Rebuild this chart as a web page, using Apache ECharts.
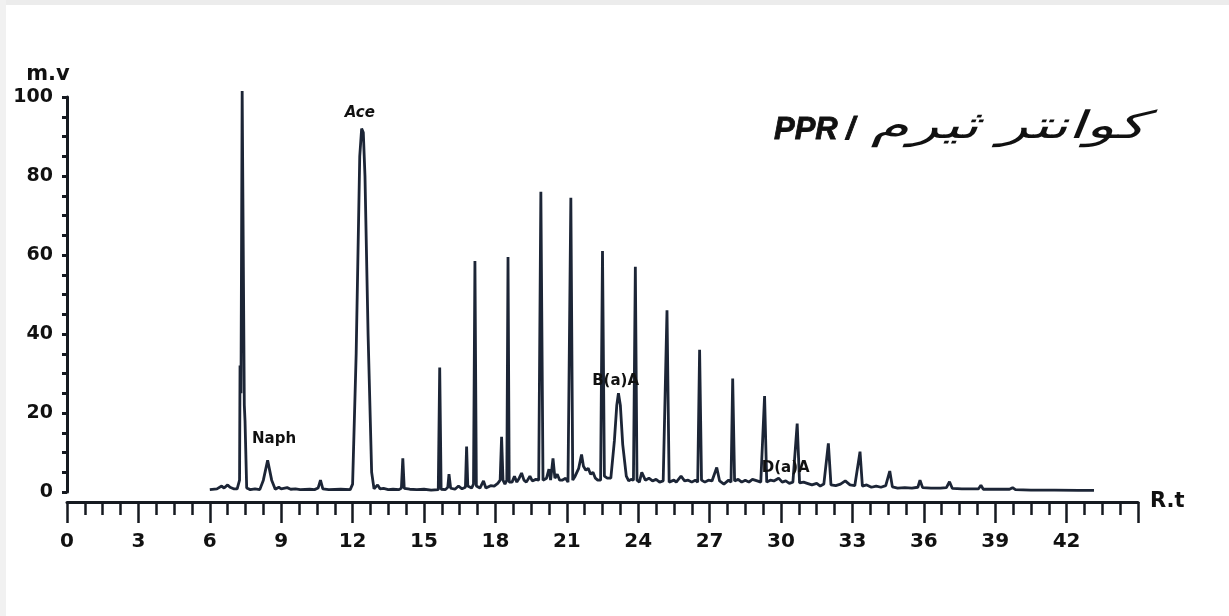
<!DOCTYPE html>
<html>
<head>
<meta charset="utf-8">
<script src="https://cdn.jsdelivr.net/npm/echarts@6/dist/echarts.min.js"></script>
<style>
  html, body { margin: 0; padding: 0; background: #fff; }
  #chart { width: 1229px; height: 616px; }
</style>
</head>
<body>
<div id="chart"></div>
<script>
// retention time (min) and detector signal (m.v)
const rtTimes = [
  6.0, 6.3, 6.5, 6.6, 6.75, 6.85, 7.0, 7.15, 7.25, 7.27, 7.31, 7.36, 7.41, 7.45, 7.48, 7.55,
  7.7, 7.9, 8.1, 8.25, 8.43, 8.6, 8.75, 8.9, 9.0, 9.25, 9.4, 9.6, 9.8, 10.2, 10.4, 10.55, 10.65, 10.75,
  11.0, 11.5, 11.9, 12.0, 12.15, 12.3, 12.38, 12.45, 12.52, 12.65, 12.8, 12.9, 13.05, 13.15, 13.3, 13.5,
  13.7, 13.95, 14.05, 14.11, 14.17, 14.4, 14.7, 15.0, 15.3, 15.6, 15.66, 15.72, 15.9, 16.0, 16.05, 16.12,
  16.3, 16.45, 16.6, 16.74, 16.79, 16.84, 17.0, 17.08, 17.14, 17.2, 17.35, 17.5, 17.6, 17.8, 17.95, 18.1,
  18.2, 18.26, 18.32, 18.4, 18.48, 18.53, 18.58, 18.7, 18.8, 18.9, 19.0, 19.1, 19.2, 19.3, 19.45, 19.55,
  19.7, 19.82, 19.91, 20.0, 20.15, 20.25, 20.32, 20.42, 20.5, 20.6, 20.7, 20.8, 20.95, 21.05, 21.17, 21.25,
  21.35, 21.5, 21.62, 21.7, 21.8, 21.9, 22.0, 22.1, 22.2, 22.3, 22.42, 22.5, 22.58, 22.7, 22.85, 23.0,
  23.1, 23.17, 23.25, 23.35, 23.5, 23.6, 23.7, 23.8, 23.88, 23.95, 24.05, 24.15, 24.3, 24.45, 24.6, 24.75,
  24.9, 25.05, 25.21, 25.3, 25.5, 25.6, 25.8, 25.95, 26.1, 26.25, 26.4, 26.5, 26.58, 26.66, 26.8, 26.95,
  27.1, 27.3, 27.42, 27.6, 27.8, 27.9, 27.97, 28.05, 28.2, 28.35, 28.5, 28.65, 28.8, 29.0, 29.15, 29.31,
  29.4, 29.55, 29.7, 29.9, 30.05, 30.2, 30.35, 30.5, 30.68, 30.78, 30.95, 31.1, 31.3, 31.5, 31.65, 31.8,
  31.99, 32.1, 32.3, 32.5, 32.7, 32.9, 33.1, 33.32, 33.42, 33.6, 33.8, 34.0, 34.2, 34.4, 34.57, 34.68,
  34.9, 35.2, 35.5, 35.75, 35.84, 35.95, 36.3, 36.7, 36.95, 37.08, 37.2, 37.6, 38.0, 38.3, 38.4, 38.5,
  39.0, 39.6, 39.73, 39.85, 40.5, 41.5, 42.5, 43.15
];
const signal = [
  0.6, 0.8, 1.5, 1.0, 1.8, 1.2, 0.8, 0.8, 3, 32, 25, 101.5, 101, 22, 18, 1,
  0.6, 0.8, 0.6, 3, 8, 3, 0.7, 1.2, 0.8, 1.1, 0.7, 0.8, 0.6, 0.7, 0.6, 1.0, 3.0, 0.8,
  0.6, 0.7, 0.6, 2, 35, 85, 92, 91, 80, 40, 5, 0.8, 1.8, 0.8, 0.9, 0.6,
  0.7, 0.6, 1.0, 8.5, 0.9, 0.7, 0.6, 0.7, 0.5, 0.6, 31.5, 0.7, 0.6, 1.2, 4.5, 1.0,
  0.7, 1.5, 0.8, 1.2, 11.5, 1.5, 1.0, 2, 58.5, 1.5, 1.0, 2.8, 1.0, 1.6, 1.5, 2.2,
  3, 14, 3, 2, 3, 59.5, 2.5, 2.5, 4, 2.5, 3.5, 4.8, 3, 2.5, 4, 2.8,
  3.2, 3, 76, 3, 3.5, 5.8, 3, 8.5, 3.5, 4.5, 3, 3, 3.5, 2.5, 74.5, 3,
  4, 6, 9.5, 6.5, 5.5, 6, 4.5, 5, 3.5, 3, 3, 61, 4, 3.5, 3.5, 13,
  22, 25, 22, 12, 4, 2.8, 3.2, 3, 57, 3, 2.5, 5, 3, 3.5, 2.8, 3.2,
  2.5, 2.8, 46, 2.5, 3, 2.5, 4, 2.8, 3, 2.5, 3, 2.5, 36, 3, 2.5, 3,
  2.8, 6.2, 2.8, 2, 3, 2.5, 28.7, 2.8, 3.2, 2.5, 3, 2.5, 3.2, 2.8, 2.5, 24.3,
  2.5, 3, 2.8, 3.5, 2.5, 2.8, 2.2, 2.5, 17.3, 2.3, 2.5, 2.2, 1.8, 2.2, 1.5, 2.0,
  12.3, 1.8, 1.6, 2, 2.8, 1.8, 1.6, 10.2, 1.5, 1.8, 1.2, 1.5, 1.2, 1.6, 5.3, 1.3,
  1.0, 1.1, 1.0, 1.2, 3, 1.1, 1.0, 1.0, 1.1, 2.6, 0.9, 0.8, 0.8, 0.8, 1.7, 0.7,
  0.7, 0.7, 1.1, 0.6, 0.5, 0.5, 0.4, 0.4
];

// peak annotations
const peakNames = ['Naph', 'Ace', 'B(a)A', 'D(a)A'];
const peakRt = [8.7, 12.3, 23.05, 30.2];
const peakLabelY = [13.4, 96, 28, 6];
const peakItalic = [false, true, false, false];

const LINE_COLOR = '#1c2536';
const AXIS_COLOR = '#161a20';

const chart = echarts.init(document.getElementById('chart'));

let trace = [];
for (let i = 0; i < rtTimes.length; i++) {
  trace.push([rtTimes[i], signal[i]]);
}

let marks = [];
for (let i = 0; i < peakNames.length; i++) {
  marks.push({
    coord: [peakRt[i], peakLabelY[i]],
    value: peakNames[i],
    label: {
      fontStyle: peakItalic[i] ? 'italic' : 'normal'
    }
  });
}

const option = {
  backgroundColor: '#ffffff',
  animation: false,
  graphic: [
    { type: 'rect', left: 0, top: 0, shape: { width: 1229, height: 5 }, style: { fill: '#ececec' }, silent: true },
    { type: 'rect', left: 0, top: 0, shape: { width: 6, height: 616 }, style: { fill: '#f1f1f1' }, silent: true },
    {
      type: 'text',
      x: 774,
      y: 130,
      silent: true,
      style: {
        text: 'PPR /',
        fontFamily: 'Liberation Sans',
        fontStyle: 'italic',
        fontWeight: 900,
        fontSize: 31,
        fill: '#111',
        stroke: '#111',
        lineWidth: 0.8,
        align: 'left',
        verticalAlign: 'middle',
        textAlign: 'left',
        textVerticalAlign: 'middle'
      }
    },
    {
      type: 'text',
      x: 1146,
      y: 128,
      scaleX: 1.62,
      silent: true,
      style: {
        text: '\u202Bکوانتر ثیرم\u202C',
        fontFamily: 'DejaVu Sans',
        fontStyle: 'italic',
        fontWeight: 'normal',
        fontSize: 38,
        fill: '#111',
        align: 'right',
        verticalAlign: 'middle',
        textAlign: 'right',
        textVerticalAlign: 'middle'
      }
    }
  ],
  grid: {
    left: 67,
    right: 91,
    top: 97,
    bottom: 124
  },
  xAxis: {
    type: 'value',
    min: 0,
    max: 45,
    interval: 3,
    offset: 10,
    name: 'R.t',
    nameLocation: 'end',
    nameGap: 12,
    nameTextStyle: {
      fontFamily: 'DejaVu Sans',
      fontWeight: 'bold',
      fontSize: 21,
      color: '#111',
      verticalAlign: 'middle'
    },
    axisLine: { onZero: false, lineStyle: { color: AXIS_COLOR, width: 3 } },
    axisTick: { length: 21, lineStyle: { color: AXIS_COLOR, width: 2.5 } },
    minorTick: { show: true, splitNumber: 4, length: 13, lineStyle: { color: AXIS_COLOR, width: 2.5 } },
    axisLabel: {
      margin: 30,
      fontFamily: 'DejaVu Sans',
      fontWeight: 'bold',
      fontSize: 20,
      color: '#111',
      formatter: (v) => (v >= 45 ? '' : String(v))
    },
    splitLine: { show: false }
  },
  yAxis: {
    type: 'value',
    min: 0,
    max: 100,
    interval: 20,
    name: 'm.v',
    nameLocation: 'end',
    nameGap: 12,
    nameTextStyle: {
      fontFamily: 'DejaVu Sans',
      fontWeight: 'bold',
      fontSize: 21,
      color: '#111',
      align: 'center',
      padding: [0, 38, 0, 0]
    },
    axisLine: { show: true, lineStyle: { color: AXIS_COLOR, width: 3 } },
    axisTick: { length: 5, lineStyle: { color: AXIS_COLOR, width: 3 } },
    minorTick: { show: true, splitNumber: 4, length: 5, lineStyle: { color: AXIS_COLOR, width: 3 } },
    axisLabel: {
      margin: 14,
      fontFamily: 'DejaVu Sans',
      fontWeight: 'bold',
      fontSize: 19,
      color: '#111'
    },
    splitLine: { show: false }
  },
  series: [
    {
      type: 'line',
      data: trace,
      showSymbol: false,
      clip: false,
      silent: true,
      lineStyle: { color: LINE_COLOR, width: 2.8 },
      markPoint: {
        symbol: 'circle',
        symbolSize: 0,
        silent: true,
        label: {
          show: true,
          position: 'inside',
          formatter: '{c}',
          fontFamily: 'DejaVu Sans',
          fontWeight: 'bold',
          fontSize: 15,
          color: '#111'
        },
        data: marks
      }
    }
  ]
};

chart.setOption(option);
</script>
</body>
</html>
